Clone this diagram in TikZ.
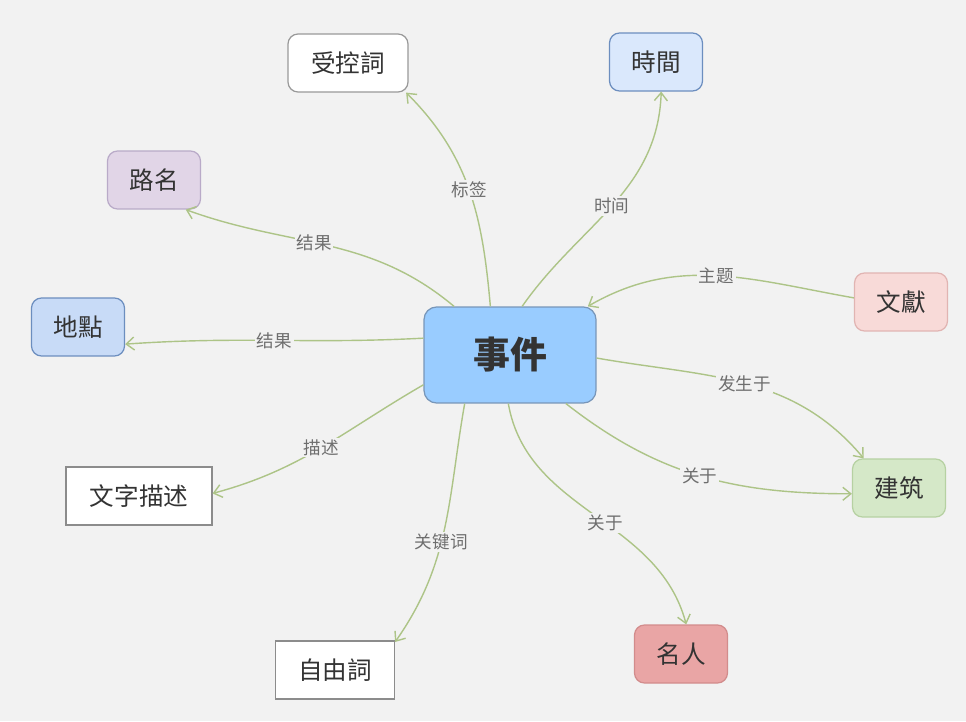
\documentclass[tikz,border=0pt]{standalone}
\usepackage{fontspec}
\setmainfont{Noto Sans CJK SC}
\usepackage{xcolor}
\usepackage{tikz}
\usetikzlibrary{arrows.meta,positioning}

\definecolor{pagebg}{HTML}{F2F2F2}
\definecolor{edgegreen}{HTML}{ADC487}
\definecolor{labelgray}{HTML}{6E6E6E}
\definecolor{textgray}{HTML}{333333}

\begin{document}
\begin{tikzpicture}[
    x=0.02cm, y=0.02cm,
    topic/.style={
      rectangle,
      draw,
      rounded corners=0.2cm,
      minimum width=1.86cm,
      minimum height=1.16cm,
      line width=0.7pt,
      text=textgray,
      font=\fontsize{14}{16}\selectfont
    },
    plain/.style={
      topic,
      rounded corners=0pt,
      fill=white,
      draw=gray!90
    },
    hub/.style={
      topic,
      fill={rgb,255:red,153;green,204;blue,255},
      draw={rgb,255:red,120;green,150;blue,185},
      rounded corners=0.25cm,
      minimum width=3.44cm,
      minimum height=1.92cm,
      font=\fontsize{21}{24}\selectfont\bfseries
    },
    rel/.style={
      fill=pagebg,
      inner sep=1pt,
      text=labelgray,
      font=\fontsize{10}{12}\selectfont
    },
    line/.style={draw=edgegreen, line width=0.8pt, -{Straight Barb[length=1.6mm,width=2.6mm]}}
]

    \fill[pagebg] (0,0) rectangle (966,721);
    \useasboundingbox (0,0) rectangle (966,721);

    % Nodes
    \node [hub] (event) at (510,366) {事件};
    \node [topic, fill=white, draw=gray!80, minimum width=2.4cm] (ctrl) at (348,658) {受控詞};
    \node [topic, fill={rgb,255:red,218;green,232;blue,252}, draw={rgb,255:red,108;green,142;blue,191}] (time) at (656,659) {時間};
    \node [topic, fill={rgb,255:red,225;green,213;blue,231}, draw={rgb,255:red,185;green,170;blue,200}] (road) at (154,541) {路名};
    \node [topic, fill={rgb,255:red,200;green,219;blue,247}, draw={rgb,255:red,108;green,142;blue,191}] (place) at (78,394) {地點};
    \node [topic, fill={rgb,255:red,248;green,218;blue,216}, draw={rgb,255:red,225;green,180;blue,178}] (doc) at (901,419) {文獻};
    \node [topic, fill={rgb,255:red,213;green,232;blue,200}, draw={rgb,255:red,182;green,209;blue,162}] (build) at (899,233) {建筑};
    \node [topic, fill={rgb,255:red,233;green,165;blue,165}, draw={rgb,255:red,210;green,140;blue,140}] (person) at (681,67) {名人};
    \node [plain, minimum width=2.92cm] (desc) at (139,225) {文字描述};
    \node [plain, minimum width=2.38cm] (free) at (335,51) {自由詞};

    % Edges
    \path [line] (event.112) to[out=95,in=-45] node[rel, pos=0.5] {标签} (ctrl.-27);
    \path [line] (event.76) to[out=55,in=-92] node[rel, pos=0.5] {时间} (time.-80);
    \path [line] (event.139) to[out=140,in=-20] node[rel, pos=0.55] {结果} (road.-43);
    \path [line] (event.169) to[out=183,in=4] node[rel, pos=0.5] {结果} (place.-20);
    \path [line] (doc.175) to[out=170,in=30] node[rel, pos=0.5] {主题} (event.32);
    \path [line] (event.-2) to[out=-10,in=130] node[rel, pos=0.5] {发生于} (build.140);
    \path [line] (event.-41) to[out=-38,in=180] node[rel, pos=0.5] {关于} (build.187);
    \path [line] (event.-92) to[out=-80,in=105] node[rel, pos=0.55] {关于} (person.80);
    \path [line] (event.-133) to[out=-100,in=55] node[rel, pos=0.56] {关键词} (free.25);
    \path [line] (event.199) to[out=-150,in=15] node[rel, pos=0.5] {描述} (desc.2);

\end{tikzpicture}
\end{document}
